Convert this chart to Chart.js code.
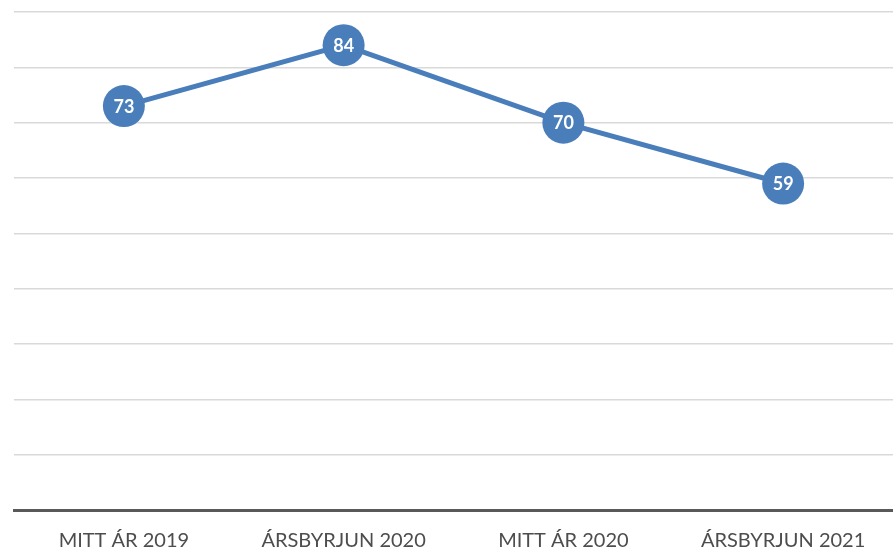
<!DOCTYPE html>
<html>
<head>
<meta charset="utf-8">
<script src="https://cdn.jsdelivr.net/npm/chart.js@4"></script>
<style>
  html, body { margin: 0; padding: 0; background: #fff; }
  #wrap { width: 893px; height: 550px; }
</style>
</head>
<body>
<div id="wrap"><canvas id="trendChart" width="893" height="550"></canvas></div>
<script>
const periods = ['MITT ÁR 2019', 'ÁRSBYRJUN 2020', 'MITT ÁR 2020', 'ÁRSBYRJUN 2021'];
const scores = [73, 84, 70, 59];
const yTicks = [0, 10, 20, 30, 40, 50, 60, 70, 80, 90];

// draws the value inside each marker
const pointLabels = {
    id: 'pointLabels',
    afterDatasetsDraw(chart) {
        const ctx = chart.ctx;
        const meta = chart.getDatasetMeta(0);
        ctx.save();
        ctx.fillStyle = '#ffffff';
        ctx.font = 'bold 18px Lato, "Open Sans", sans-serif';
        ctx.textAlign = 'center';
        ctx.textBaseline = 'middle';
        meta.data.forEach((pt, i) => {
            ctx.fillText(chart.data.datasets[0].data[i], pt.x, pt.y + 1);
        });
        ctx.restore();
    }
};

const ctx = document.getElementById('trendChart').getContext('2d');
new Chart(ctx, {
    type: 'line',
    data: {
        labels: periods,
        datasets: [{
            data: scores,
            borderColor: '#4a7ebb',
            backgroundColor: '#4a7ebb',
            borderWidth: 5,
            pointRadius: 21,
            pointHoverRadius: 21,
            pointBorderWidth: 0,
            tension: 0,
            fill: false
        }]
    },
    options: {
        responsive: false,
        animation: false,
        layout: { autoPadding: false, padding: { left: 14, right: 0, top: 12, bottom: 0 } },
        plugins: {
            legend: { display: false },
            tooltip: { enabled: false }
        },
        scales: {
            x: {
                offset: true,
                grid: { display: false, drawTicks: false },
                border: { display: true, color: '#595959', width: 3 },
                afterFit: axis => { axis.height = 40; },
                ticks: {
                    color: '#4d4d4d',
                    padding: 19,
                    font: { family: 'Lato, "Open Sans", sans-serif', size: 20 }
                }
            },
            y: {
                min: 0,
                max: 90,
                afterBuildTicks: axis => { axis.ticks = yTicks.map(v => ({ value: v })); },
                ticks: { display: false },
                border: { display: false },
                grid: {
                    drawTicks: false,
                    color: c => c.tick.value === 0 ? 'rgba(0,0,0,0)' : '#d9d9d9',
                    lineWidth: 1.5
                }
            }
        }
    },
    plugins: [pointLabels]
});
</script>
</body>
</html>
